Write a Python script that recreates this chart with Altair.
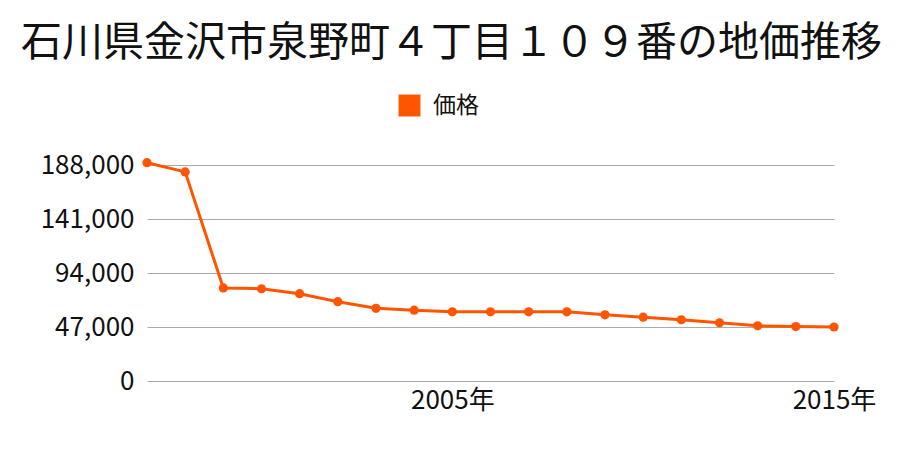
import altair as alt
import pandas as pd

years = [1997, 1998, 1999, 2000, 2001, 2002, 2003, 2004, 2005, 2006,
         2007, 2008, 2009, 2010, 2011, 2012, 2013, 2014, 2015]
prices = [190000, 182000, 81000, 80300, 76000, 69000, 63300, 61600, 60200, 60200,
          60200, 60200, 57600, 55500, 53300, 50700, 48000, 47400, 47000]
series_name = "価格"
y_ticks = [0, 47000, 94000, 141000, 188000]
x_ticks = [2005, 2015]
title_text = "石川県金沢市泉野町４丁目１０９番の地価推移"

df = pd.DataFrame({"year": years, "price": prices, "series": [series_name] * len(years)})

FONT = "Noto Sans CJK JP"
ORANGE = "#FF5500"

chart = alt.Chart(df).mark_line(
    strokeWidth=3,
    point=alt.OverlayMarkDef(size=85, filled=True, opacity=1),
).encode(
    x=alt.X("year:Q",
            scale=alt.Scale(domain=[1997, 2015], nice=False, zero=False),
            axis=alt.Axis(values=x_ticks, labelExpr="datum.value + '年'", title=None,
                          grid=False, domain=False, ticks=False, labelFlush=False,
                          labelFontSize=26, labelFont=FONT, labelColor="#111",
                          labelPadding=6)),
    y=alt.Y("price:Q",
            scale=alt.Scale(domain=[0, 188000], nice=False),
            axis=alt.Axis(values=y_ticks, format=",.0f", title=None,
                          domain=False, ticks=False, gridColor="#aaaaaa", gridWidth=1,
                          labelFontSize=26, labelFont=FONT, labelColor="#111",
                          labelPadding=13)),
    color=alt.Color("series:N",
                    scale=alt.Scale(range=[ORANGE]),
                    legend=alt.Legend(title=None, orient="none", legendX=251, legendY=-71,
                                      symbolType="square", symbolSize=480,
                                      symbolStrokeWidth=0, labelFont=FONT,
                                      labelFontSize=23, labelColor="#111",
                                      labelOffset=12, padding=0)),
).properties(
    width=687,
    height=216,
    title=alt.TitleParams(title_text, font=FONT, fontSize=41, fontWeight="normal",
                          color="#111", anchor="middle", dx=-39, offset=29),
    autosize=alt.AutoSizeParams(type="none"),
    padding={"left": 147, "top": 165, "right": 66, "bottom": 69},
).configure_view(stroke=None)

chart.save("out.html", embed_options={"renderer": "svg", "actions": False})
